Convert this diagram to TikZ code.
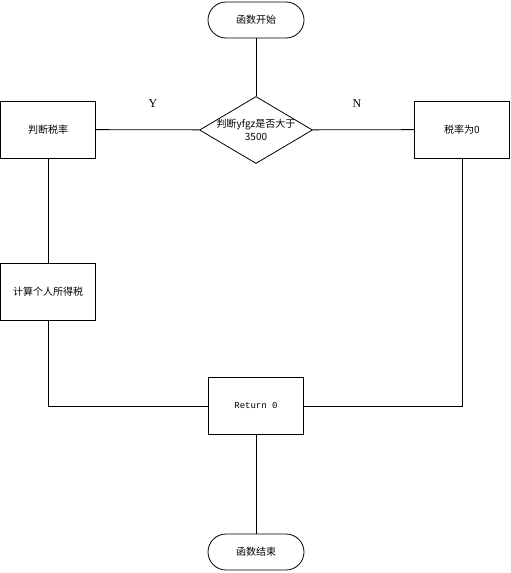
\documentclass[tikz,border=0pt]{standalone}
\usepackage{fontspec}
\setmainfont{Liberation Serif}
\newfontfamily\cjk{Noto Sans CJK SC}
\newfontfamily\mono{Liberation Mono}
\usetikzlibrary{shapes.geometric}

\begin{document}
\begin{tikzpicture}[x=1pt, y=-1pt, line width=0.8pt,
	term/.style={draw, rectangle, rounded corners=18pt, minimum width=96pt, minimum height=36pt, font=\cjk\fontsize{10}{12}\selectfont},
	proc/.style={draw, rectangle, minimum width=95pt, minimum height=57pt, font=\cjk\fontsize{10}{12}\selectfont},
	decide/.style={draw, diamond, minimum width=113pt, minimum height=67pt, inner sep=0pt},
	branch/.style={font=\fontsize{12}{14}\selectfont}]
	\useasboundingbox (0,0) rectangle (511,573);

	\node[term] (start) at (256,20) {函数开始};
	\node[decide] (dec) at (256,130) {};
	\node[align=center, inner sep=0pt, font=\cjk\fontsize{10}{13}\selectfont] (dectext) at (dec.center) {判断yfgz是否大于\\3500};
	\node[proc] (rate) at (48,129.5) {判断税率};
	\node[proc] (zero) at (462,129.5) {税率为0};
	\node[proc] (calc) at (48,292) {计算个人所得税};
	\node[proc, font=\mono\fontsize{9}{11}\selectfont] (ret) at (256,406) {Return 0};
	\node[term] (stop) at (256,552) {函数结束};

	\node[branch] (yes) at (153,104) {Y};
	\node[branch] (no) at (357,104) {N};

	\draw (start) -- (dec);
	\draw (dec) -- (rate);
	\draw (dec) -- (zero);
	\draw (rate) -- (calc);
	\draw (calc.south) |- (ret.west);
	\draw (zero.south) |- (ret.east);
	\draw (ret) -- (stop);
\end{tikzpicture}
\end{document}
